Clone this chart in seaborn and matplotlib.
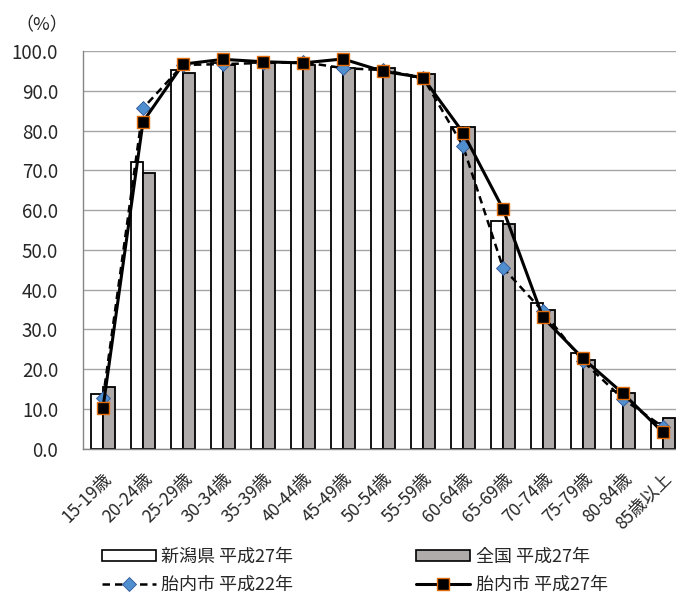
import numpy as np
import pandas as pd
import matplotlib
matplotlib.use("Agg")
import matplotlib.pyplot as plt
import matplotlib.transforms as mtransforms
import seaborn as sns
from matplotlib.lines import Line2D
from matplotlib.patches import Patch

categories = ['15-19歳', '20-24歳', '25-29歳', '30-34歳', '35-39歳', '40-44歳', '45-49歳',
              '50-54歳', '55-59歳', '60-64歳', '65-69歳', '70-74歳', '75-79歳', '80-84歳', '85歳以上']
niigata_h27 = [13.7, 72.0, 95.1, 96.9, 97.0, 97.0, 96.1, 95.8, 93.4, 81.0, 57.3, 36.6, 24.0, 14.5, 6.4]
zenkoku_h27 = [15.5, 69.3, 94.5, 96.6, 97.0, 96.6, 95.8, 95.6, 94.1, 80.8, 56.4, 35.0, 22.3, 14.0, 7.8]
tainai_h22 = [12.7, 85.6, 96.5, 96.7, 97.0, 97.2, 95.7, 95.2, 93.3, 76.1, 45.5, 34.5, 22.0, 12.5, 5.5]
tainai_h27 = [10.3, 82.2, 96.7, 97.9, 97.3, 97.0, 98.0, 94.9, 93.3, 79.5, 60.3, 33.0, 22.7, 13.9, 4.1]
yticks = [0, 10, 20, 30, 40, 50, 60, 70, 80, 90, 100]
series_names = ['新潟県 平成27年', '全国 平成27年', '胎内市 平成22年', '胎内市 平成27年']

sns.set_theme(style='white')
plt.rcParams['font.family'] = ['Noto Sans CJK JP', 'DejaVu Sans']

fig = plt.figure(figsize=(6.76, 5.93), dpi=100)
W, H = 676, 593
ax = fig.add_axes([83 / W, (H - 448.7) / H, 600 / W, 397.7 / H])

df = pd.DataFrame({
    'age': categories * 2,
    'value': niigata_h27 + zenkoku_h27,
    'series': [series_names[0]] * len(categories) + [series_names[1]] * len(categories),
})
sns.barplot(data=df, x='age', y='value', hue='series', order=categories,
            hue_order=series_names[:2], palette=['white', '#AFABAB'], saturation=1,
            width=0.58, gap=0, edgecolor='black', linewidth=1.3, errorbar=None,
            legend=False, ax=ax, zorder=2)

pos = np.arange(len(categories))
sns.lineplot(x=pos, y=tainai_h22, ax=ax, color='black', linestyle=(0, (3, 2)), lw=1.8,
             marker='D', markersize=7, markerfacecolor='#4F8FD0', markeredgecolor='#2F5597',
             markeredgewidth=0.6, zorder=4)
sns.lineplot(x=pos, y=tainai_h27, ax=ax, color='black', lw=2.2,
             marker='s', markersize=8, markerfacecolor='black', markeredgecolor='#E36C0A',
             markeredgewidth=1.0, zorder=5)

ax.set_xlim(-0.5, len(categories) - 0.5)
ax.set_ylim(0, 100)
ax.set_yticks(yticks)
ax.set_yticklabels([f'{v:.1f}' for v in yticks], fontsize=13.5)
ax.set_xticks(pos)
ax.set_xticklabels(categories, rotation=45, ha='right', rotation_mode='anchor', fontsize=12.5)
shift = mtransforms.ScaledTranslation(6 / 100, 0, fig.dpi_scale_trans)
for lab in ax.get_xticklabels():
    lab.set_transform(lab.get_transform() + shift)
ax.set_xticks(np.arange(-0.5, len(categories), 1), minor=True)
ax.tick_params(axis='x', which='major', length=0, pad=15)
ax.tick_params(axis='x', which='minor', length=5, color='#868686', width=1, direction='out')
ax.tick_params(axis='y', length=5, color='#868686', width=1, direction='out', pad=13)
ax.yaxis.grid(True, color='#A6A6A6', lw=1)
ax.set_axisbelow(True)
ax.set_xlabel('')
ax.set_ylabel('')
for s in ['top', 'right']:
    ax.spines[s].set_visible(False)
for s in ['left', 'bottom']:
    ax.spines[s].set_color('#868686')
    ax.spines[s].set_linewidth(1)

fig.text(42 / W, 1 - 25 / H, '（%）', ha='center', va='center', fontsize=13)

handles = [
    Patch(facecolor='white', edgecolor='black', lw=1.2),
    Line2D([], [], color='black', linestyle=(0, (3, 2)), lw=1.8, marker='D', markersize=7,
           markerfacecolor='#4F8FD0', markeredgecolor='#2F5597', markeredgewidth=0.6),
    Patch(facecolor='#AFABAB', edgecolor='black', lw=1.2),
    Line2D([], [], color='black', lw=2.2, marker='s', markersize=8,
           markerfacecolor='black', markeredgecolor='#E36C0A', markeredgewidth=1.0),
]
labels = [series_names[0], series_names[2], series_names[1], series_names[3]]
fig.legend(handles, labels, ncol=2, loc='upper left', bbox_to_anchor=(101.7 / W, 1 - 548 / H),
           frameon=False, fontsize=13, handlelength=3.0, handleheight=0.55,
           handletextpad=0.3, columnspacing=6.8, labelspacing=0.55, borderpad=0,
           borderaxespad=0)

fig.savefig('out.png', dpi=100)
